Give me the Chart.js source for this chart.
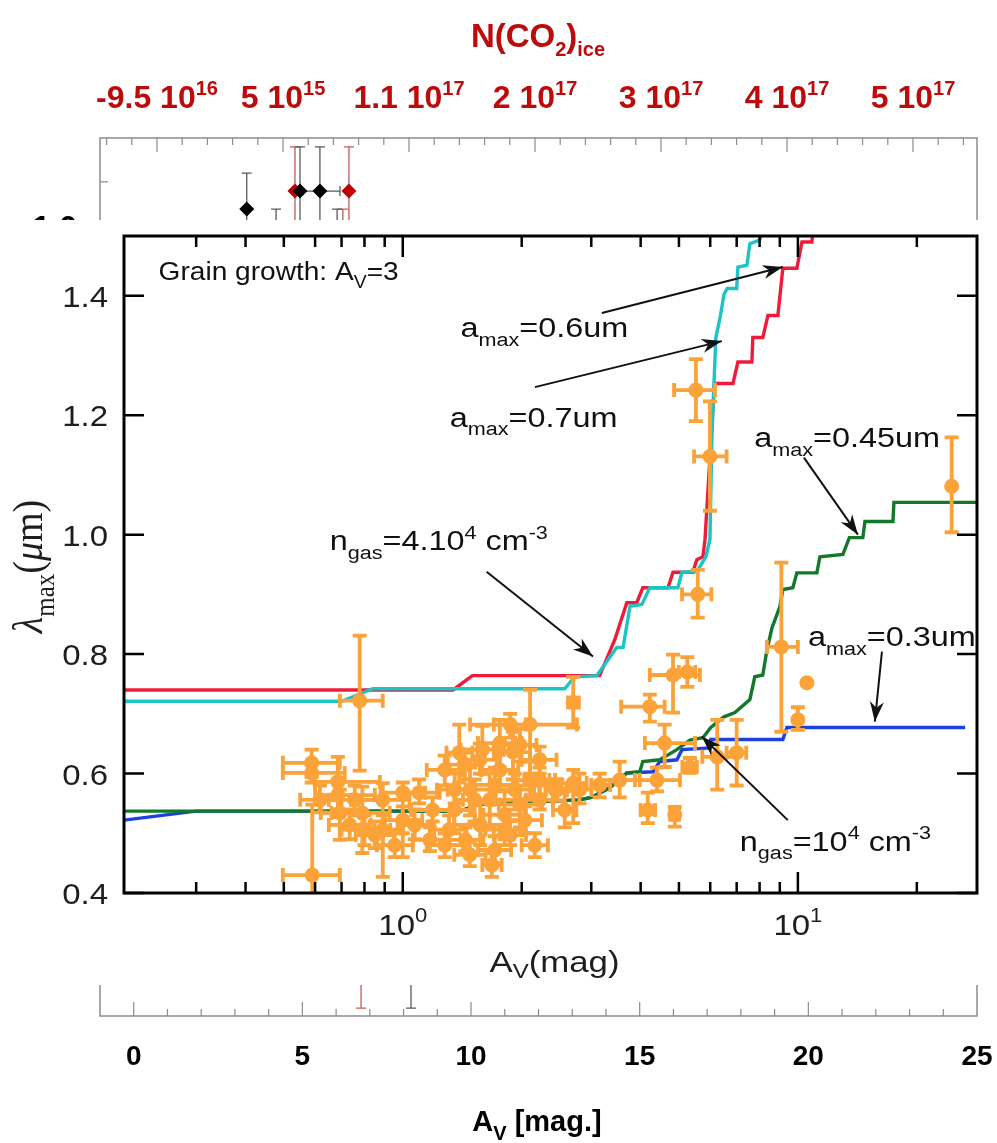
<!DOCTYPE html>
<html>
<head>
<meta charset="utf-8">
<script src="https://cdn.jsdelivr.net/npm/chart.js@4.4.1/dist/chart.umd.min.js"></script>
<style>
  html, body { margin: 0; padding: 0; background: #fff; }
  #page { position: relative; width: 997px; height: 1143px; overflow: hidden; background: #fff; }
  #bgChart { position: absolute; left: 0; top: 0; }
  #mainBox { position: absolute; left: 0; top: 220px; width: 997px; height: 765px; background: #fff; }
</style>
</head>
<body>
<div id="page">
  <canvas id="bgChart" width="997" height="1143"></canvas>
  <div id="mainBox"><canvas id="mainChart" width="997" height="765"></canvas></div>
</div>
<script>
// ---- model curves: A_V (mag) vs lambda_max (um) ----
const redAv  = [0.197, 1.34, 1.50, 3.15, 3.44, 3.69, 3.91, 4.05, 4.69, 4.83, 5.42, 5.55, 5.75, 5.82, 6.15, 6.85, 7.05, 7.65, 7.69, 8.15, 8.40, 8.90, 9.16, 9.94, 10.24, 10.85, 10.95];
const redLam = [0.740, 0.740, 0.764, 0.764, 0.824, 0.886, 0.886, 0.911, 0.911, 0.937, 0.937, 0.958, 0.963, 0.992, 1.253, 1.253, 1.289, 1.289, 1.330, 1.330, 1.367, 1.367, 1.446, 1.446, 1.490, 1.490, 1.52];

const cyanAv  = [0.197, 0.70, 0.84, 2.57, 2.72, 3.10, 3.48, 3.61, 3.76, 4.03, 4.22, 4.97, 5.09, 5.55, 5.85, 5.99, 6.06, 6.13, 6.20, 6.35, 6.50, 6.62, 7.00, 7.05, 7.43, 7.56, 8.00, 8.25];
const cyanLam = [0.721, 0.721, 0.742, 0.742, 0.762, 0.764, 0.811, 0.811, 0.880, 0.883, 0.911, 0.911, 0.937, 0.938, 0.963, 0.992, 1.166, 1.250, 1.330, 1.362, 1.402, 1.412, 1.412, 1.448, 1.451, 1.487, 1.493, 1.52];

const greenAv  = [0.197, 1.40, 1.55, 2.80, 3.00, 3.34, 3.69, 3.98, 4.05, 4.47, 4.94, 5.33, 5.75, 6.02, 6.50, 6.93, 7.56, 7.78, 8.15, 8.35, 8.60, 9.00, 9.16, 9.71, 9.94, 11.17, 11.37, 13.0, 13.5, 14.6, 14.78, 17.4, 17.5, 28.4];
const greenLam = [0.537, 0.537, 0.548, 0.556, 0.560, 0.576, 0.601, 0.603, 0.620, 0.623, 0.640, 0.656, 0.660, 0.677, 0.695, 0.702, 0.724, 0.762, 0.765, 0.807, 0.844, 0.879, 0.908, 0.911, 0.936, 0.936, 0.963, 0.967, 0.995, 0.995, 1.022, 1.022, 1.054, 1.054];

const blueAv  = [0.197, 0.30, 1.40, 1.55, 2.80, 3.00, 3.34, 3.69, 4.30, 4.47, 4.94, 5.09, 5.99, 6.02, 9.16, 9.38, 26.5];
const blueLam = [0.522, 0.537, 0.537, 0.548, 0.556, 0.560, 0.576, 0.601, 0.603, 0.620, 0.623, 0.640, 0.643, 0.657, 0.657, 0.677, 0.677];

// ---- observed sources (orange) ----
const obsAv    = [0.778, 0.590, 1.68, 2.70, 5.58, 5.52, 5.99, 24.5, 9.08, 10.54, 10.0, 4.83, 5.25, 4.22, 4.60, 4.17, 4.88, 5.33, 6.25, 7.00, 4.40, 3.54, 3.15, 2.70, 2.46, 2.10, 1.87, 1.39,
                  0.588, 0.588, 0.685, 0.685, 0.693, 0.79, 0.80, 0.89, 0.89, 1.00, 1.00, 1.10, 1.19, 0.756,
                  1.59, 1.76, 1.90, 2.22, 1.48, 1.66, 1.81, 1.57, 1.98, 1.35, 1.31, 1.71, 2.10, 2.22, 1.44, 1.87, 2.43, 2.57, 2.80,
                  1.277, 1.436, 1.52, 1.761, 1.921, 2.037, 2.159, 1.71, 1.478, 1.277, 1.81, 1.567, 1.354, 2.22, 1.98,
                  0.617, 0.734, 0.954, 0.849, 1.072, 1.171];
const obsLam   = [0.722, 0.430, 0.447, 0.719, 0.900, 1.242, 1.131, 1.081, 0.812, 0.752, 0.690, 0.765, 0.770, 0.712, 0.651, 0.539, 0.531, 0.611, 0.628, 0.635, 0.589, 0.589, 0.581, 0.584, 0.573, 0.682, 0.682, 0.635,
                  0.618, 0.601, 0.586, 0.564, 0.534, 0.534, 0.506, 0.556, 0.506, 0.568, 0.522, 0.568, 0.539, 0.556,
                  0.640, 0.651, 0.636, 0.623, 0.573, 0.556, 0.531, 0.514, 0.548, 0.539, 0.506, 0.581, 0.589, 0.556, 0.489, 0.497, 0.573, 0.539, 0.573,
                  0.606, 0.615, 0.556, 0.606, 0.573, 0.522, 0.480, 0.472, 0.464, 0.480, 0.506, 0.623, 0.573, 0.589, 0.648,
                  0.556, 0.514, 0.480, 0.497, 0.514, 0.489];
const obsAvLo  = [0.693, 0.497, 1.59, 2.62, 5.09, 4.86, 5.46, 24.5, 8.35, 10.54, 10.0, 4.22, 5.00, 3.57, 4.10, 4.00, 4.75, 5.10, 5.73, 6.60, 3.87, 3.15, 3.00, 2.22, 2.30, 1.48, 1.70, 1.29,
                  0.497, 0.497, 0.599, 0.60, 0.62, 0.66, 0.70, 0.74, 0.78, 0.88, 0.90, 1.00, 1.05, 0.65,
                  1.40, 1.55, 1.70, 2.00, 1.30, 1.42, 1.60, 1.35, 1.75, 1.20, 1.20, 1.50, 1.90, 2.05, 1.30, 1.70, 2.30, 2.40, 2.60,
                  1.15, 1.30, 1.36, 1.58, 1.72, 1.85, 2.00, 1.55, 1.35, 1.15, 1.62, 1.42, 1.22, 2.03, 1.80,
                  0.55, 0.65, 0.86, 0.76, 0.97, 1.06];
const obsAvHi  = [0.890, 0.693, 1.78, 2.79, 6.04, 6.17, 6.60, 24.5, 10.0, 10.54, 10.0, 5.65, 5.50, 4.60, 5.49, 4.35, 5.00, 5.55, 7.00, 7.40, 5.03, 3.98, 3.35, 2.92, 2.60, 2.76, 2.05, 1.50,
                  0.693, 0.713, 0.875, 0.85, 0.78, 0.927, 0.93, 1.04, 1.00, 1.14, 1.12, 1.24, 1.32, 0.88,
                  1.80, 2.00, 2.10, 2.45, 1.70, 1.92, 2.05, 1.80, 2.25, 1.50, 1.45, 1.95, 2.35, 2.40, 1.60, 2.05, 2.60, 2.75, 3.00,
                  1.42, 1.58, 1.70, 1.96, 2.15, 2.25, 2.33, 1.88, 1.62, 1.42, 2.02, 1.73, 1.50, 2.43, 2.18,
                  0.70, 0.83, 1.06, 0.95, 1.19, 1.30];
const obsLamLo = [0.605, 0.380, 0.427, 0.677, 0.861, 1.190, 1.040, 1.004, 0.670, 0.752, 0.673, 0.702, 0.745, 0.687, 0.611, 0.517, 0.511, 0.601, 0.573, 0.580, 0.570, 0.560, 0.560, 0.517, 0.555, 0.600, 0.660, 0.585,
                  0.594, 0.585, 0.527, 0.540, 0.489, 0.467, 0.480, 0.427, 0.480, 0.460, 0.500, 0.550, 0.520, 0.530,
                  0.600, 0.610, 0.590, 0.600, 0.530, 0.510, 0.490, 0.480, 0.510, 0.500, 0.480, 0.550, 0.560, 0.540, 0.470, 0.480, 0.555, 0.510, 0.550,
                  0.580, 0.590, 0.520, 0.580, 0.540, 0.500, 0.460, 0.450, 0.445, 0.460, 0.480, 0.600, 0.550, 0.565, 0.620,
                  0.535, 0.490, 0.460, 0.475, 0.490, 0.470];
const obsLamHi = [0.831, 0.548, 0.467, 0.762, 0.941, 1.294, 1.223, 1.163, 0.953, 0.752, 0.711, 0.799, 0.795, 0.732, 0.682, 0.568, 0.544, 0.626, 0.690, 0.690, 0.610, 0.620, 0.600, 0.606, 0.590, 0.740, 0.700, 0.682,
                  0.640, 0.615, 0.628, 0.590, 0.573, 0.578, 0.530, 0.584, 0.530, 0.585, 0.545, 0.590, 0.560, 0.580,
                  0.680, 0.690, 0.670, 0.645, 0.610, 0.600, 0.570, 0.550, 0.580, 0.570, 0.530, 0.610, 0.620, 0.580, 0.510, 0.520, 0.590, 0.570, 0.600,
                  0.630, 0.640, 0.590, 0.635, 0.600, 0.545, 0.500, 0.495, 0.485, 0.500, 0.530, 0.650, 0.600, 0.610, 0.675,
                  0.580, 0.540, 0.500, 0.520, 0.540, 0.510];

// ---- background figure: N(CO2) points vs A_V ----
const bgBlackAv  = [3.35, 4.93, 5.52, 4.22, 6.03, 8.22];
const bgBlackY   = [1.038, 1.079, 1.079, 0.60, 0.70, 0.00];
const bgBlackAvLo = [3.35, 4.93, 4.93, 4.22, 6.03, 8.22];
const bgBlackAvHi = [3.35, 4.93, 6.115, 4.22, 6.03, 8.22];
const bgBlackYLo = [-0.20, 0.50, 0.50, 0.30, 0.40, -0.782];
const bgBlackYHi = [1.12, 1.18, 1.18, 1.038, 1.038, 0.30];

const bgRedAv  = [4.78, 6.38, 6.20, 6.74];
const bgRedY   = [1.079, 1.079, 0.70, 0.00];
const bgRedYLo = [0.40, 0.40, 0.50, -0.782];
const bgRedYHi = [1.18, 1.18, 1.038, 0.30];

const topTickLabels = [['-9.5 10', '16'], ['5 10', '15'], ['1.1 10', '17'], ['2 10', '17'], ['3 10', '17'], ['4 10', '17'], ['5 10', '17']];
const bottomTickLabels = [0, 5, 10, 15, 20, 25];

const mainYTicks = [0.4, 0.6, 0.8, 1.0, 1.2, 1.4];
const mainXMajor = [1, 10];
const mainXMinor = [0.3, 0.4, 0.5, 0.6, 0.7, 0.8, 0.9, 2, 3, 4, 5, 6, 7, 8, 9, 20];

const ORANGE = '#fba239', RED = '#ee1c3a', CYAN = '#1ec3c6', GREEN = '#13792a', BLUE = '#1d40e0';
const DARKRED = '#bd0a0a';

const pts = (xs, ys) => xs.map((v, i) => ({ x: v, y: ys[i] }));

// text with sub/superscripts, optional horizontal stretch
function richText(ctx, parts, x, y, o) {
  const size = o.size, fam = o.family || 'Liberation Sans', wt = o.weight || 'normal';
  const subSize = Math.round(size * (o.subRatio || 0.68));
  const fontOf = (k, it) => `${it ? 'italic ' : ''}${wt} ${k ? subSize : size}px "${fam}"`;
  let total = 0;
  const widths = parts.map(p => {
    ctx.font = fontOf(p[1], p[2]);
    const m = ctx.measureText(p[0]).width;
    total += m;
    return m;
  });
  ctx.save();
  ctx.translate(x, y);
  if (o.rotate) ctx.rotate(o.rotate);
  ctx.scale(o.sx || 1, o.sy || 1);
  let cx = o.align === 'center' ? -total / 2 : o.align === 'right' ? -total : 0;
  ctx.fillStyle = o.color || '#000';
  ctx.textBaseline = 'alphabetic';
  ctx.textAlign = 'left';
  parts.forEach((p, i) => {
    ctx.font = fontOf(p[1], p[2]);
    const dy = p[1] === 'sub' ? size * (o.subDrop || 0.3) : p[1] === 'sup' ? -size * 0.42 : 0;
    ctx.fillText(p[0], cx, dy);
    cx += widths[i];
  });
  ctx.restore();
  return total * (o.sx || 1);
}

function arrow(ctx, x1, y1, x2, y2, head) {
  ctx.beginPath();
  ctx.moveTo(x1, y1);
  ctx.lineTo(x2, y2);
  ctx.stroke();
  if (!head) return;
  const ang = Math.atan2(y2 - y1, x2 - x1), L = 20, W = 7;
  const ux = Math.cos(ang), uy = Math.sin(ang);
  ctx.beginPath();
  ctx.moveTo(x2, y2);
  ctx.lineTo(x2 - L * ux - W * uy, y2 - L * uy + W * ux);
  ctx.lineTo(x2 - 0.7 * L * ux, y2 - 0.7 * L * uy);
  ctx.lineTo(x2 - L * ux + W * uy, y2 - L * uy - W * ux);
  ctx.closePath();
  ctx.fill();
}

// error bars for any dataset carrying an errorBars block
const errorBarPlugin = {
  id: 'errorBars',
  beforeDatasetDraw(chart, args) {
    const ds = chart.data.datasets[args.index];
    const eb = ds.errorBars;
    if (!eb) return;
    const { ctx, chartArea: a, scales } = chart;
    const xs = scales.x, ys = scales.y;
    ctx.save();
    ctx.beginPath();
    ctx.rect(a.left, a.top, a.right - a.left, a.bottom - a.top);
    ctx.clip();
    ctx.strokeStyle = eb.color;
    ctx.lineWidth = eb.width;
    ds.data.forEach((p, i) => {
      const px = xs.getPixelForValue(p.x), py = ys.getPixelForValue(p.y);
      ctx.beginPath();
      if (eb.xLo) {
        const x0 = xs.getPixelForValue(eb.xLo[i]), x1 = xs.getPixelForValue(eb.xHi[i]);
        if (x1 - x0 > 1) {
          ctx.moveTo(x0, py); ctx.lineTo(x1, py);
          ctx.moveTo(x0, py - eb.cap); ctx.lineTo(x0, py + eb.cap);
          ctx.moveTo(x1, py - eb.cap); ctx.lineTo(x1, py + eb.cap);
        }
      }
      const y0 = ys.getPixelForValue(eb.yLo[i]), y1 = ys.getPixelForValue(eb.yHi[i]);
      if (y0 - y1 > 1) {
        ctx.moveTo(px, y0); ctx.lineTo(px, y1);
        ctx.moveTo(px - eb.cap, y0); ctx.lineTo(px + eb.cap, y0);
        ctx.moveTo(px - eb.cap, y1); ctx.lineTo(px + eb.cap, y1);
      }
      ctx.stroke();
    });
    ctx.restore();
  }
};

// ---------- background figure ----------
const bgDecor = {
  id: 'bgDecor',
  afterDraw(chart) {
    const { ctx, chartArea: a, scales: { x, y, xTop } } = chart;
    ctx.save();
    ctx.strokeStyle = '#8c8c8c';
    ctx.lineWidth = 1.5;
    ctx.strokeRect(a.left, a.top, a.right - a.left, a.bottom - a.top);
    ctx.lineWidth = 1.2;
    ctx.beginPath();
    for (let v = 0; v < 25; v++) {
      const px = x.getPixelForValue(v), len = v % 5 === 0 ? 14 : 7;
      ctx.moveTo(px, a.bottom); ctx.lineTo(px, a.bottom - len);
    }
    for (let k = -2; k <= 32; k++) {
      const v = k / 5, px = xTop.getPixelForValue(v);
      if (px <= a.left + 1 || px >= a.right - 1) continue;
      const len = k % 5 === 0 ? 14 : 7;
      ctx.moveTo(px, a.top); ctx.lineTo(px, a.top + len);
    }
    const ty = y.getPixelForValue(1.1);
    ctx.moveTo(a.left, ty); ctx.lineTo(a.left + 8, ty);
    ctx.stroke();

    bottomTickLabels.forEach(v => {
      richText(ctx, [[String(v), '']], x.getPixelForValue(v), a.bottom + 49, { size: 28, weight: 'bold', align: 'center', color: '#000' });
    });
    topTickLabels.forEach((t, i) => {
      richText(ctx, [[t[0], ''], [t[1], 'sup']], xTop.getPixelForValue(i), 108, { size: 32, weight: 'bold', align: 'center', color: DARKRED, subRatio: 0.62 });
    });
    richText(ctx, [['N(CO', ''], ['2', 'sub'], [')', ''], ['ice', 'sub']], 538, 47, { size: 33, weight: 'bold', align: 'center', color: DARKRED, subRatio: 0.62, subDrop: 0.28 });
    richText(ctx, [['A', ''], ['V', 'sub'], [' [mag.]', '']], 537, 1131, { size: 29, weight: 'bold', align: 'center', color: '#000', subDrop: 0.3 });
    richText(ctx, [['1.0', '']], a.left - 23, y.getPixelForValue(1.0) + 12, { size: 32, weight: 'bold', align: 'right', color: '#000' });
    ctx.restore();
  }
};

new Chart(document.getElementById('bgChart'), {
  type: 'scatter',
  data: {
    datasets: [
      {
        label: 'N(CO2) black', data: pts(bgBlackAv, bgBlackY),
        pointStyle: 'rectRot', pointRadius: 7.5, backgroundColor: '#000', borderWidth: 0,
        errorBars: { xLo: bgBlackAvLo, xHi: bgBlackAvHi, yLo: bgBlackYLo, yHi: bgBlackYHi, color: '#5a5a5a', width: 1.3, cap: 5 }
      },
      {
        label: 'N(CO2) red', data: pts(bgRedAv, bgRedY),
        pointStyle: 'rectRot', pointRadius: 7.5, backgroundColor: '#c00000', borderWidth: 0,
        errorBars: { yLo: bgRedYLo, yHi: bgRedYHi, color: '#c25a5a', width: 1.3, cap: 5 }
      }
    ]
  },
  options: {
    responsive: false, animation: false, events: [],
    layout: { padding: { left: 100, right: 20, top: 138, bottom: 127 } },
    plugins: { legend: { display: false }, tooltip: { enabled: false } },
    scales: {
      x: { type: 'linear', min: -1, max: 25, display: false },
      xTop: { type: 'linear', axis: 'x', position: 'top', min: -0.4524, max: 6.508, display: false },
      y: { type: 'linear', min: -0.8, max: 1.2, display: false }
    }
  },
  plugins: [errorBarPlugin, bgDecor]
});

// ---------- main figure ----------
const notes = [
  { parts: [['Grain growth: A', ''], ['V', 'sub'], ['=3', '']], x: 0.241, y: 1.442, size: 26, sx: 1.08 },
  { parts: [['a', ''], ['max', 'sub'], ['=0.6um', '']], x: 1.40, y: 1.347, size: 27, sx: 1.2 },
  { parts: [['a', ''], ['max', 'sub'], ['=0.7um', '']], x: 1.315, y: 1.197, size: 27, sx: 1.2 },
  { parts: [['a', ''], ['max', 'sub'], ['=0.45um', '']], x: 7.75, y: 1.163, size: 27, sx: 1.2 },
  { parts: [['a', ''], ['max', 'sub'], ['=0.3um', '']], x: 10.6, y: 0.830, size: 27, sx: 1.2 },
  { parts: [['n', ''], ['gas', 'sub'], ['=4.10', ''], ['4', 'sup'], [' cm', ''], ['-3', 'sup']], x: 0.653, y: 0.990, size: 27, sx: 1.2 },
  { parts: [['n', ''], ['gas', 'sub'], ['=10', ''], ['4', 'sup'], [' cm', ''], ['-3', 'sup']], x: 7.13, y: 0.487, size: 27, sx: 1.2 }
];
const arrows = [
  { from: [3.19, 1.371], to: [9.16, 1.448], head: true },
  { from: [2.16, 1.247], to: [6.42, 1.324], head: true },
  { from: [1.63, 0.938], to: [3.03, 0.796], head: true },
  { from: [10.36, 1.129], to: [14.19, 1.000], head: true },
  { from: [16.32, 0.804], to: [15.66, 0.687], head: true },
  { from: [9.43, 0.522], to: [5.71, 0.662], head: true }
];

const mainDecor = {
  id: 'mainDecor',
  afterDraw(chart) {
    const { ctx, chartArea: a, scales: { x, y } } = chart;
    ctx.save();
    ctx.strokeStyle = '#000';
    ctx.lineWidth = 2.5;
    ctx.beginPath();
    mainYTicks.forEach(v => {
      const py = y.getPixelForValue(v);
      ctx.moveTo(a.left, py); ctx.lineTo(a.left + 20, py);
      ctx.moveTo(a.right, py); ctx.lineTo(a.right - 20, py);
    });
    mainXMajor.forEach(v => {
      const px = x.getPixelForValue(v);
      ctx.moveTo(px, a.bottom); ctx.lineTo(px, a.bottom - 21);
      ctx.moveTo(px, a.top); ctx.lineTo(px, a.top + 21);
    });
    mainXMinor.forEach(v => {
      const px = x.getPixelForValue(v);
      ctx.moveTo(px, a.bottom); ctx.lineTo(px, a.bottom - 11);
      ctx.moveTo(px, a.top); ctx.lineTo(px, a.top + 11);
    });
    ctx.stroke();
    ctx.lineWidth = 3;
    ctx.strokeRect(a.left, a.top, a.right - a.left, a.bottom - a.top);

    const tc = '#1e1e1e';
    mainYTicks.forEach(v => {
      richText(ctx, [[v.toFixed(1), '']], a.left - 16, y.getPixelForValue(v) + 11, { size: 30, sx: 1.1, align: 'right', color: tc });
    });
    mainXMajor.forEach(v => {
      richText(ctx, [['10', ''], [String(Math.log10(v)), 'sup']], x.getPixelForValue(v), a.bottom + 42, { size: 30, sx: 1.1, align: 'center', color: tc });
    });
    richText(ctx, [['A', ''], ['V', 'sub'], ['(mag)', '']], (a.left + a.right) / 2 + 4, a.bottom + 79, { size: 29, sx: 1.2, align: 'center', color: tc, subDrop: 0.22 });
    richText(ctx, [['\u03bb', '', true], ['max', 'sub'], ['(', ''], ['\u03bc', '', true], ['m', ''], [')', '']],
      42, (a.top + a.bottom) / 2 + 2, { size: 38, family: 'Liberation Serif', rotate: -Math.PI / 2, align: 'center', color: tc, subRatio: 0.66, subDrop: 0.28, sy: 1.1 });

    notes.forEach(n => {
      richText(ctx, n.parts, x.getPixelForValue(n.x), y.getPixelForValue(n.y) + n.size * 0.36, { size: n.size, sx: n.sx, color: '#111', subDrop: 0.32 });
    });
    ctx.strokeStyle = '#111';
    ctx.fillStyle = '#111';
    ctx.lineWidth = 2;
    arrows.forEach(r => {
      arrow(ctx, x.getPixelForValue(r.from[0]), y.getPixelForValue(r.from[1]), x.getPixelForValue(r.to[0]), y.getPixelForValue(r.to[1]), r.head);
    });
    ctx.restore();
  }
};

const lineDs = (label, xs, ys, color, order) => ({
  type: 'line', label, data: pts(xs, ys), borderColor: color, borderWidth: 3.4,
  pointRadius: 0, fill: false, tension: 0, order, borderJoinStyle: 'miter'
});

new Chart(document.getElementById('mainChart'), {
  type: 'scatter',
  data: {
    datasets: [
      {
        type: 'scatter', label: 'observed', data: pts(obsAv, obsLam), order: 0,
        pointRadius: 7.5, backgroundColor: ORANGE, borderWidth: 0,
        errorBars: { xLo: obsAvLo, xHi: obsAvHi, yLo: obsLamLo, yHi: obsLamHi, color: ORANGE, width: 3.8, cap: 7 }
      },
      lineDs('a_max=0.7um', cyanAv, cyanLam, CYAN, 1),
      lineDs('a_max=0.6um', redAv, redLam, RED, 2),
      lineDs('a_max=0.45um', greenAv, greenLam, GREEN, 3),
      lineDs('a_max=0.3um', blueAv, blueLam, BLUE, 4)
    ]
  },
  options: {
    responsive: false, animation: false, events: [],
    layout: { padding: { left: 124, right: 20, top: 16, bottom: 92 } },
    plugins: { legend: { display: false }, tooltip: { enabled: false } },
    scales: {
      x: { type: 'logarithmic', min: 0.197, max: 28.4, display: false },
      y: { type: 'linear', min: 0.4, max: 1.5, display: false }
    }
  },
  plugins: [errorBarPlugin, mainDecor]
});
</script>
</body>
</html>
